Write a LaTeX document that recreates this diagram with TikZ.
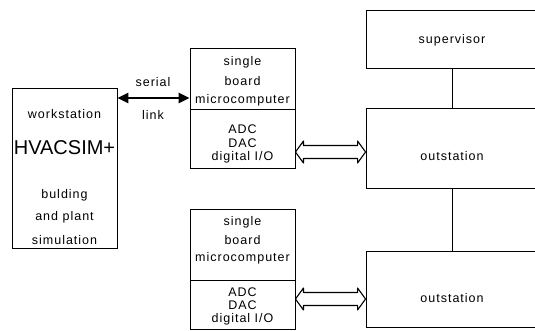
\documentclass[tikz,border=0pt]{standalone}
\usepackage{fontspec}
\setmainfont{Liberation Sans}
\newfontfamily\lblfont[LetterSpace=8]{Liberation Sans}
\usetikzlibrary{arrows.meta,calc}
\tikzset{
  box/.style={draw, line width=0.9pt, rectangle, inner sep=0pt},
  lbl/.style={font=\lblfont\fontsize{12.5}{14}\selectfont, inner sep=0pt},
  big/.style={font=\fontsize{20}{22}\selectfont, inner sep=0pt},
  serialarrow/.style={line width=2.6pt, {Triangle[length=11pt,width=10pt]}-{Triangle[length=11pt,width=10pt]}},
  hollow/.style={draw, line width=1.1pt, line join=round},
  link/.style={line width=0.9pt}
}
\begin{document}
\begin{tikzpicture}[x=1pt,y=-1pt]
\useasboundingbox (0,0) rectangle (535,330);
\clip (0,0) rectangle (535,330);
% workstation
\node[box, minimum width=105pt, minimum height=160pt] (ws) at (64.5,168) {};
\node[lbl] (wst) at (64.5,114) {workstation};
\node[big] (hv) at (64.5,148) {HVACSIM+};
\node[lbl] (wb1) at (64.5,195) {bulding};
\node[lbl] (wb2) at (64.5,217) {and plant};
\node[lbl] (wb3) at (64.5,240) {simulation};
% SBC 1
\node[box, minimum width=105pt, minimum height=61pt] (sbcAu) at (242.5,78.5) {};
\node[box, minimum width=105pt, minimum height=59pt] (sbcAl) at (242.5,138.5) {};
\node[lbl] (a1) at (242.5,62) {single};
\node[lbl] (a2) at (242.5,81) {board};
\node[lbl] (a3) at (242.5,100) {microcomputer};
\node[lbl] (a4) at (242.5,129) {ADC};
\node[lbl] (a5) at (242.5,143) {DAC};
\node[lbl] (a6) at (242.5,157) {digital I/O};
% SBC 2
\node[box, minimum width=105pt, minimum height=71pt] (sbcBu) at (242.5,244.5) {};
\node[box, minimum width=105pt, minimum height=49pt] (sbcBl) at (242.5,304.5) {};
\node[lbl] (b1) at (242.5,222) {single};
\node[lbl] (b2) at (242.5,240) {board};
\node[lbl] (b3) at (242.5,258) {microcomputer};
\node[lbl] (b4) at (242.5,292) {ADC};
\node[lbl] (b5) at (242.5,305) {DAC};
\node[lbl] (b6) at (242.5,319) {digital I/O};
% right boxes
\node[box, minimum width=172pt, minimum height=58pt] (sup) at (452,39) {};
\node[lbl] (supt) at (452,40) {supervisor};
\node[box, minimum width=172pt, minimum height=80pt] (out1) at (452,148) {};
\node[lbl] (out1t) at (452,156) {outstation};
\node[box, minimum width=172pt, minimum height=76pt] (out2) at (452,289) {};
\node[lbl] (out2t) at (452,298) {outstation};
% serial link
\coordinate (sy) at (0,98);
\draw[serialarrow] (ws.east |- sy) -- (sbcAu.west |- sy);
\node[lbl] (ser) at (153,82) {serial};
\node[lbl] (lnk) at (153,115) {link};
% hollow arrows
\coordinate (h1) at (0,152);
\coordinate (h2) at (0,299);
\coordinate (L1) at (sbcAl.east |- h1);
\coordinate (R1) at (out1.west |- h1);
\coordinate (L2) at (sbcBl.east |- h2);
\coordinate (R2) at (out2.west |- h2);
\draw[hollow] (L1) -- ($(L1)+(8,-11)$) -- ($(L1)+(8,-6.5)$) -- ($(R1)+(-8,-6.5)$) -- ($(R1)+(-8,-11)$) -- (R1)
  -- ($(R1)+(-8,11)$) -- ($(R1)+(-8,6.5)$) -- ($(L1)+(8,6.5)$) -- ($(L1)+(8,11)$) -- cycle;
\draw[hollow] (L2) -- ($(L2)+(8,-11)$) -- ($(L2)+(8,-6.5)$) -- ($(R2)+(-8,-6.5)$) -- ($(R2)+(-8,-11)$) -- (R2)
  -- ($(R2)+(-8,11)$) -- ($(R2)+(-8,6.5)$) -- ($(L2)+(8,6.5)$) -- ($(L2)+(8,11)$) -- cycle;
% vertical links
\draw[link] (sup.south) -- (out1.north);
\draw[link] (out1.south) -- (out2.north);
\end{tikzpicture}
\end{document}
